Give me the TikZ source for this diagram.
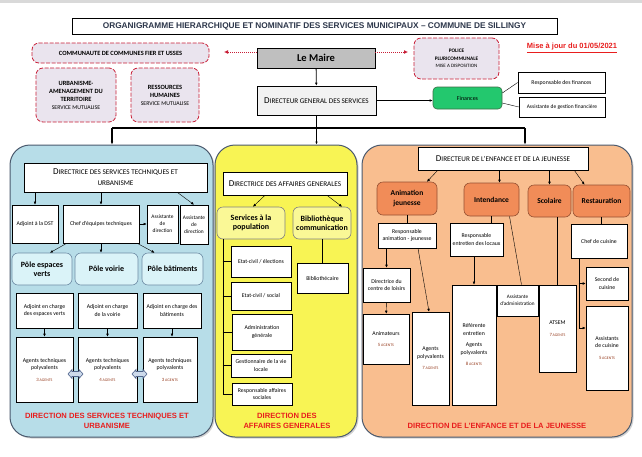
\documentclass[tikz,border=0pt]{standalone}
\usepackage{fontspec}
\setmainfont{Carlito}
\newfontfamily\arialfont{Liberation Sans}
\usetikzlibrary{arrows.meta,shadows}

\definecolor{titletxt}{RGB}{45,55,75}
\definecolor{redtxt}{RGB}{232,30,30}
\definecolor{mutline}{RGB}{200,30,55}
\definecolor{mutfill}{RGB}{234,228,238}
\definecolor{mairefill}{RGB}{191,191,191}
\definecolor{dgsfill}{RGB}{242,242,242}
\definecolor{finfill}{RGB}{35,200,110}
\definecolor{finline}{RGB}{60,110,70}
\definecolor{panelline}{RGB}{75,90,110}
\definecolor{stufill}{RGB}{183,221,232}
\definecolor{polefill}{RGB}{218,243,248}
\definecolor{poleline}{RGB}{110,140,165}
\definecolor{dagfill}{RGB}{248,244,84}
\definecolor{svcfill}{RGB}{250,248,150}
\definecolor{enffill}{RGB}{249,190,143}
\definecolor{unitfill}{RGB}{241,140,88}
\definecolor{unitline}{RGB}{150,80,50}
\definecolor{agentbrown}{RGB}{150,60,30}
\definecolor{dblfill}{RGB}{205,218,235}
\definecolor{dblline}{RGB}{80,100,140}

\newcommand{\capsline}[2]{{\fontsize{9}{11}\selectfont #1}{\fontsize{7.2}{11}\selectfont #2}}
\newcommand{\agents}[1]{{\color{agentbrown}\fontsize{4.8}{5}\selectfont #1\,\fontsize{3.9}{5}\selectfont AGENTS}}

\tikzset{
  cell/.style={draw=black, line width=0.6pt, fill=white, align=center, inner sep=1pt, font=\fontsize{5.8}{7.5}\selectfont},
  head/.style={cell, font=\fontsize{7.2}{11}\selectfont},
  mutual/.style={draw=mutline, line width=0.8pt, dash pattern=on 4pt off 1.5pt, fill=mutfill, rounded corners=7pt, align=center, inner sep=1pt, font=\bfseries\fontsize{6.4}{8}\selectfont},
  panel/.style={draw=panelline, line width=1pt, rounded corners=20pt, drop shadow={opacity=0.35, shadow xshift=1.5pt, shadow yshift=-1.5pt}},
  pole/.style={draw=poleline, line width=0.6pt, fill=polefill, rounded corners=6pt, align=center, font=\bfseries\fontsize{8}{9.5}\selectfont},
  svc/.style={draw=gray, line width=0.6pt, fill=svcfill, rounded corners=6pt, align=center, inner sep=1pt, font=\bfseries\fontsize{8}{9.5}\selectfont},
  unit/.style={draw=unitline, line width=0.6pt, fill=unitfill, rounded corners=6pt, align=center, font=\bfseries\fontsize{7.5}{9.5}\selectfont},
  redlabel/.style={align=center, text=redtxt, font=\arialfont\bfseries\fontsize{7.6}{9.5}\selectfont},
  linkarrow/.style={draw=mutline, line width=1pt, dash pattern=on 1pt off 1pt, -{Latex[length=4pt,width=4pt]}},
  bus/.style={line width=1.6pt},
  dblarrow/.style={draw=dblline, line width=0.6pt, fill=dblfill}
}

\begin{document}
\begin{tikzpicture}[x=1pt,y=-1pt,>={Latex[length=3pt,width=2.6pt]}]
\useasboundingbox (0,0) rectangle (642,456);
\fill[white] (0,0) rectangle (642,456);
\fill[gray!30] (0,0) rectangle (642,2.5);

\node[cell, minimum width=485, minimum height=16, font=\arialfont\bfseries\fontsize{8.3}{10}\selectfont, text=titletxt] (title) at (314.5,26) {ORGANIGRAMME HIERARCHIQUE ET NOMINATIF DES SERVICES MUNICIPAUX – COMMUNE DE SILLINGY};

\node[mutual, minimum width=177, minimum height=20] (ccfu) at (120.5,53) {COMMUNAUTE DE COMMUNES FIER ET USSES};
\node[mutual, minimum width=80, minimum height=54] (urba) at (76,95) {URBANISME-\\AMENAGEMENT DU\\TERRITOIRE\\{\mdseries\fontsize{5.8}{7.5}\selectfont SERVICE MUTUALISE}};
\node[mutual, minimum width=68, minimum height=54] (rh) at (165,95) {RESSOURCES\\HUMAINES\\{\mdseries\fontsize{5.8}{7.5}\selectfont SERVICE MUTUALISE}};
\node[mutual, minimum width=85, minimum height=41, font=\bfseries\fontsize{5.3}{8.5}\selectfont] (police) at (456.5,58.5) {POLICE\\PLURICOMMUNALE\\[-1.5pt]{\mdseries\fontsize{5}{8}\selectfont MISE A DISPOSITION}};
\node[font=\arialfont\bfseries\fontsize{7.5}{9}\selectfont, text=redtxt] (maj) at (572,48) {\underline{Mise à jour du 01/05/2021}};

\node[cell, fill=mairefill, minimum width=118, minimum height=20, font=\bfseries\fontsize{10.5}{12}\selectfont] (maire) at (316,58) {Le Maire};
\coordinate (ccfuend) at (224,52);
\coordinate (policeend) at (408,52);
\draw[linkarrow] ([yshift=6pt]maire.west) -- (ccfuend);
\draw[linkarrow] ([yshift=6pt]maire.east) -- (policeend);

\node[cell, fill=dgsfill, minimum width=119, minimum height=29] (dgs) at (316.5,100.5) {\capsline{D}{IRECTEUR GENERAL DES SERVICES}};
\draw[line width=0.8pt,->] (maire) -- (dgs);

\node[cell, fill=finfill, draw=finline, rounded corners=4pt, minimum width=69, minimum height=22, font=\fontsize{6}{7}\selectfont] (fin) at (467.5,98) {Finances};
\node[cell, minimum width=87, minimum height=21] (respfin) at (561.5,82.5) {Responsable des finances};
\node[cell, minimum width=86, minimum height=20, font=\fontsize{5.5}{7}\selectfont] (assfin) at (562,107) {Assistante de gestion financière};
\draw[line width=1pt,->] (dgs.east) -- (dgs.east -| fin.west);
\draw ([yshift=5pt]fin.east) -- (respfin.west);
\draw ([yshift=-5pt]fin.east) -- (assfin.west);

\node[panel, fill=stufill, minimum width=203, minimum height=292] (stu) at (111.5,291) {};
\node[panel, fill=dagfill, minimum width=142, minimum height=292] (dag) at (286,291) {};
\node[panel, fill=enffill, minimum width=270, minimum height=292] (enf) at (497,291) {};

\coordinate (bus) at (316.5,128);
\coordinate (busL) at (112,128);
\coordinate (busR) at (525,128);
\draw[bus] (busL) -- (busR);
\draw[bus,->] (dgs) -- (dgs |- dag.north);
\draw[bus,->] (busL) -- (busL |- stu.north);
\draw[bus,->] (busR) -- (busR |- enf.north);

\node[head, minimum width=183, minimum height=29] (dst) at (115.5,177.5) {\capsline{D}{IRECTRICE DES SERVICES TECHNIQUES ET}\\URBANISME};
\node[cell, minimum width=46, minimum height=38] (adjdst) at (35,224) {Adjoint à la DST};
\node[cell, minimum width=76, minimum height=38] (chef) at (101,224) {Chef d’équipes techniques};
\node[cell, minimum width=31, minimum height=38, font=\fontsize{5.4}{7}\selectfont] (assdir1) at (162.5,224) {Assistante\\de\\direction};
\node[cell, minimum width=28, minimum height=39, font=\fontsize{5.4}{7}\selectfont] (assdir2) at (194,224.5) {Assistante\\de\\direction};
\draw[->] (dst.south -| adjdst) -- (adjdst.north);
\draw[->] (dst.south -| chef) -- (chef.north);
\draw[->] ([xshift=-30pt]dst.south east) -- (assdir2.north);
\draw[->] (chef.east) -- (assdir1.west);

\node[pole, minimum width=60, minimum height=32] (pev) at (42,269) {Pôle espaces\\verts};
\node[pole, minimum width=63, minimum height=32] (pvo) at (106.5,269) {Pôle voirie};
\node[pole, minimum width=61, minimum height=32] (pba) at (172.5,269) {Pôle bâtiments};
\draw[->] ([xshift=4pt]chef.south west) -- ([xshift=8pt]pev.north);
\draw[->] (chef.south) -- (chef.south |- pvo.north);
\draw[->] ([xshift=-2pt]chef.south east) -- ([xshift=-18pt]pba.north);

\node[cell, minimum width=57, minimum height=35] (adjev) at (44.5,310.5) {Adjoint en charge\\des espaces verts};
\node[cell, minimum width=59, minimum height=35] (adjvo) at (107.5,310.5) {Adjoint en charge\\de la voirie};
\node[cell, minimum width=58, minimum height=35] (adjba) at (172,310.5) {Adjoint en charge des\\bâtiments};
\node[cell, minimum width=57, minimum height=65] (agev) at (44.5,369.5) {Agents techniques\\polyvalents\\[4pt]\agents{3}};
\node[cell, minimum width=59, minimum height=65] (agvo) at (107.5,369.5) {Agents techniques\\polyvalents\\[4pt]\agents{4}};
\node[cell, minimum width=54, minimum height=65] (agba) at (170,369.5) {Agents techniques\\polyvalents\\[4pt]\agents{3}};
\draw[->] (adjev.south) -- (agev.north);
\draw[->] (adjvo.south) -- (agvo.north);
\draw[->] (adjba.south) -- (adjba.south |- agba.north);
\draw[dblarrow] (68,374) -- ++(4,-4.5) -- ++(0,2) -- ++(7,0) -- ++(0,-2) -- ++(4,4.5) -- ++(-4,4.5) -- ++(0,-2) -- ++(-7,0) -- ++(0,2) -- cycle;
\draw[dblarrow] (132,374) -- ++(4,-4.5) -- ++(0,2) -- ++(7,0) -- ++(0,-2) -- ++(4,4.5) -- ++(-4,4.5) -- ++(0,-2) -- ++(-7,0) -- ++(0,2) -- cycle;
\node[redlabel] (stulbl) at (107,421) {DIRECTION DES SERVICES TECHNIQUES ET\\URBANISME};

\node[head, minimum width=124, minimum height=23] (dagdir) at (285,183.5) {\capsline{D}{IRECTRICE DES AFFAIRES GENERALES}};
\node[svc, minimum width=68, minimum height=32] (spop) at (251,223) {Services à la\\population};
\node[svc, minimum width=58, minimum height=32] (bib) at (322,223) {Bibliothèque\\communication};
\draw[->] ([xshift=-20pt]dagdir.south) -- ([xshift=2pt]spop.north);
\draw[->] ([xshift=42pt]dagdir.south) -- ([xshift=20pt]bib.north);
\node[cell, minimum width=60, minimum height=31] (ecel) at (261,261.5) {Etat-civil / élections};
\node[cell, minimum width=60, minimum height=28] (ecso) at (261,296) {Etat-civil / social};
\node[cell, minimum width=60, minimum height=36] (admg) at (262,332) {Administration\\générale};
\node[cell, minimum width=60, minimum height=23] (gvl) at (261,365.5) {Gestionnaire de la vie\\locale};
\node[cell, minimum width=60, minimum height=22] (ras) at (262,394) {Responsable affaires\\sociales};
\coordinate (spine) at ([xshift=6pt]spop.south west);
\draw (spine) |- (ras.west);
\draw (spine |- ecel.west) -- (ecel.west);
\draw (spine |- ecso.west) -- (ecso.west);
\draw (spine |- admg.west) -- (admg.west);
\draw (spine |- gvl.west) -- (gvl.west);
\node[cell, minimum width=51, minimum height=30] (biblio) at (322.5,278) {Bibliothécaire};
\draw (bib.south) -- (bib.south |- biblio.north);
\node[redlabel] (daglbl) at (287,421) {DIRECTION DES\\AFFAIRES GENERALES};

\node[head, minimum width=170, minimum height=23] (enfdir) at (503,158.5) {\capsline{D}{IRECTEUR DE L’ENFANCE ET DE LA JEUNESSE}};
\node[unit, minimum width=60, minimum height=33] (anim) at (407,198.5) {Animation\\jeunesse};
\node[unit, minimum width=55, minimum height=33] (inten) at (491.5,199.5) {Intendance};
\node[unit, minimum width=43, minimum height=32] (scol) at (549.5,201) {Scolaire};
\node[unit, minimum width=57, minimum height=32] (resto) at (601.5,201) {Restauration};
\coordinate (intin) at ([xshift=8pt]inten.north);
\draw[->] ([xshift=20pt]enfdir.south west) -- ([xshift=20pt]anim.north);
\draw[->] (enfdir.south -| intin) -- (intin);
\draw[->] (enfdir.south -| scol) -- (scol.north);
\draw[->] ([xshift=-14pt]enfdir.south east) -- ([xshift=-17pt]resto.north);

\node[cell, minimum width=58, minimum height=25] (respanim) at (407,235.5) {Responsable\\animation - jeunesse};
\node[cell, minimum width=53, minimum height=33] (respent) at (476.5,239.5) {Responsable\\entretien des locaux};
\draw (anim) -- (respanim);
\draw (inten.south) -- (inten.south |- respent.north);
\node[cell, minimum width=47, minimum height=34] (dircl) at (386.5,285) {Directrice du\\centre de loisirs};
\node[cell, minimum width=46, minimum height=50] (anima) at (386,339) {Animateurs\\[4pt]\agents{5}};
\node[cell, minimum width=37, minimum height=93] (agpol) at (430.5,358.5) {Agents\\polyvalents\\[4pt]\agents{7}};
\node[cell, minimum width=44, minimum height=120] (refent) at (474,345) {Référente\\entretien\\[4pt]Agents\\polyvalents\\[4pt]\agents{8}};
\node[cell, minimum width=41, minimum height=31, font=\fontsize{5.2}{7}\selectfont] (assadm) at (517.5,300.5) {Assistante\\d’administration};
\node[cell, minimum width=37, minimum height=87] (atsem) at (557.5,328.5) {ATSEM\\[4pt]\agents{7}};
\draw[->] (respanim.south -| dircl) -- (dircl.north);
\draw[->] (dircl) -- (anima);
\draw[->] ([xshift=11pt]respanim.south) -- ([xshift=-1.5pt]agpol.north);
\draw[->] (respent.south -| refent) -- (refent.north);
\draw ([xshift=18pt]inten.south) -- ([xshift=4pt]assadm.north);
\draw (scol.south -| atsem) -- (atsem.north);

\node[cell, minimum width=56, minimum height=34] (chefcui) at (599,241) {Chef de cuisine};
\node[cell, minimum width=42, minimum height=33] (second) at (607,283.5) {Second de\\cuisine};
\node[cell, minimum width=42, minimum height=84] (asscui) at (607,348) {Assistants\\de cuisine\\[4pt]\agents{5}};
\draw (resto.south) -- (resto.south |- chefcui.north);
\coordinate (cuispine) at ([xshift=8pt]chefcui.south west);
\coordinate (asscin) at ([yshift=20pt]asscui.west);
\draw[->] (cuispine) |- (asscin);
\draw[->] (cuispine |- second.west) -- (second.west);
\node[redlabel] (enflbl) at (497,426) {DIRECTION DE L’ENFANCE ET DE LA JEUNESSE};
\end{tikzpicture}
\end{document}
